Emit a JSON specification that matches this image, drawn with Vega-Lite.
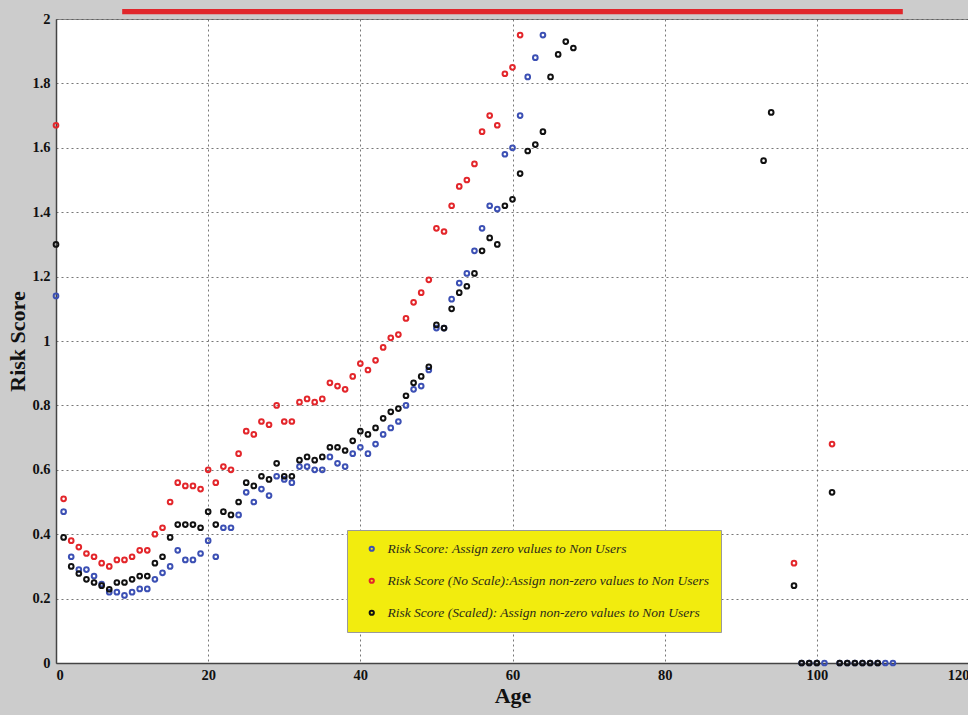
{
  "$schema": "https://vega.github.io/schema/vega-lite/v6.json",
  "width": 913,
  "height": 644,
  "autosize": {"type": "none"},
  "padding": {"left": 56, "top": 19, "right": 0, "bottom": 52},
  "background": "#cccccc",
  "config": {
    "view": {"fill": "white", "stroke": "#8a8a8a", "strokeWidth": 1},
    "font": "Liberation Serif",
    "axis": {
      "grid": true,
      "gridColor": "#555555",
      "gridDash": [2, 3],
      "gridOpacity": 0.8,
      "gridWidth": 1,
      "domainColor": "#444444",
      "domainWidth": 1.5,
      "tickColor": "#444444",
      "tickSize": 0,
      "labelFont": "Liberation Serif",
      "labelFontWeight": "bold",
      "labelFontSize": 14.5,
      "labelColor": "#111111",
      "titleFont": "Liberation Serif",
      "titleFontWeight": "bold",
      "titleColor": "#111111"
    }
  },
  "data": {
    "values": [
      {"s":"B","age":0,"score":1.14},{"s":"B","age":1,"score":0.47},{"s":"B","age":2,"score":0.33},{"s":"B","age":3,"score":0.29},{"s":"B","age":4,"score":0.29},{"s":"B","age":5,"score":0.27},{"s":"B","age":6,"score":0.245},{"s":"B","age":7,"score":0.22},{"s":"B","age":8,"score":0.22},{"s":"B","age":9,"score":0.21},{"s":"B","age":10,"score":0.22},{"s":"B","age":11,"score":0.23},{"s":"B","age":12,"score":0.23},{"s":"B","age":13,"score":0.26},{"s":"B","age":14,"score":0.28},{"s":"B","age":15,"score":0.3},{"s":"B","age":16,"score":0.35},{"s":"B","age":17,"score":0.32},{"s":"B","age":18,"score":0.32},{"s":"B","age":19,"score":0.34},{"s":"B","age":20,"score":0.38},{"s":"B","age":21,"score":0.33},{"s":"B","age":22,"score":0.42},{"s":"B","age":23,"score":0.42},{"s":"B","age":24,"score":0.46},{"s":"B","age":25,"score":0.53},{"s":"B","age":26,"score":0.5},{"s":"B","age":27,"score":0.54},{"s":"B","age":28,"score":0.52},{"s":"B","age":29,"score":0.58},{"s":"B","age":30,"score":0.57},{"s":"B","age":31,"score":0.56},{"s":"B","age":32,"score":0.61},{"s":"B","age":33,"score":0.61},{"s":"B","age":34,"score":0.6},{"s":"B","age":35,"score":0.6},{"s":"B","age":36,"score":0.64},{"s":"B","age":37,"score":0.62},{"s":"B","age":38,"score":0.61},{"s":"B","age":39,"score":0.65},{"s":"B","age":40,"score":0.67},{"s":"B","age":41,"score":0.65},{"s":"B","age":42,"score":0.68},{"s":"B","age":43,"score":0.71},{"s":"B","age":44,"score":0.73},{"s":"B","age":45,"score":0.75},{"s":"B","age":46,"score":0.8},{"s":"B","age":47,"score":0.85},{"s":"B","age":48,"score":0.86},{"s":"B","age":49,"score":0.91},{"s":"B","age":50,"score":1.04},{"s":"B","age":51,"score":1.04},{"s":"B","age":52,"score":1.13},{"s":"B","age":53,"score":1.18},{"s":"B","age":54,"score":1.21},{"s":"B","age":55,"score":1.28},{"s":"B","age":56,"score":1.35},{"s":"B","age":57,"score":1.42},{"s":"B","age":58,"score":1.41},{"s":"B","age":59,"score":1.58},{"s":"B","age":60,"score":1.6},{"s":"B","age":61,"score":1.7},{"s":"B","age":62,"score":1.82},{"s":"B","age":63,"score":1.88},{"s":"B","age":64,"score":1.95},
      {"s":"B","age":98,"score":0},{"s":"B","age":99,"score":0},{"s":"B","age":100,"score":0},{"s":"B","age":101,"score":0},{"s":"B","age":103,"score":0},{"s":"B","age":104,"score":0},{"s":"B","age":105,"score":0},{"s":"B","age":106,"score":0},{"s":"B","age":107,"score":0},{"s":"B","age":108,"score":0},{"s":"B","age":109,"score":0},{"s":"B","age":110,"score":0},
      {"s":"R","age":0,"score":1.67},{"s":"R","age":1,"score":0.51},{"s":"R","age":2,"score":0.38},{"s":"R","age":3,"score":0.36},{"s":"R","age":4,"score":0.34},{"s":"R","age":5,"score":0.33},{"s":"R","age":6,"score":0.31},{"s":"R","age":7,"score":0.3},{"s":"R","age":8,"score":0.32},{"s":"R","age":9,"score":0.32},{"s":"R","age":10,"score":0.33},{"s":"R","age":11,"score":0.35},{"s":"R","age":12,"score":0.35},{"s":"R","age":13,"score":0.4},{"s":"R","age":14,"score":0.42},{"s":"R","age":15,"score":0.5},{"s":"R","age":16,"score":0.56},{"s":"R","age":17,"score":0.55},{"s":"R","age":18,"score":0.55},{"s":"R","age":19,"score":0.54},{"s":"R","age":20,"score":0.6},{"s":"R","age":21,"score":0.56},{"s":"R","age":22,"score":0.61},{"s":"R","age":23,"score":0.6},{"s":"R","age":24,"score":0.65},{"s":"R","age":25,"score":0.72},{"s":"R","age":26,"score":0.71},{"s":"R","age":27,"score":0.75},{"s":"R","age":28,"score":0.74},{"s":"R","age":29,"score":0.8},{"s":"R","age":30,"score":0.75},{"s":"R","age":31,"score":0.75},{"s":"R","age":32,"score":0.81},{"s":"R","age":33,"score":0.82},{"s":"R","age":34,"score":0.81},{"s":"R","age":35,"score":0.82},{"s":"R","age":36,"score":0.87},{"s":"R","age":37,"score":0.86},{"s":"R","age":38,"score":0.85},{"s":"R","age":39,"score":0.89},{"s":"R","age":40,"score":0.93},{"s":"R","age":41,"score":0.91},{"s":"R","age":42,"score":0.94},{"s":"R","age":43,"score":0.98},{"s":"R","age":44,"score":1.01},{"s":"R","age":45,"score":1.02},{"s":"R","age":46,"score":1.07},{"s":"R","age":47,"score":1.12},{"s":"R","age":48,"score":1.15},{"s":"R","age":49,"score":1.19},{"s":"R","age":50,"score":1.35},{"s":"R","age":51,"score":1.34},{"s":"R","age":52,"score":1.42},{"s":"R","age":53,"score":1.48},{"s":"R","age":54,"score":1.5},{"s":"R","age":55,"score":1.55},{"s":"R","age":56,"score":1.65},{"s":"R","age":57,"score":1.7},{"s":"R","age":58,"score":1.67},{"s":"R","age":59,"score":1.83},{"s":"R","age":60,"score":1.85},{"s":"R","age":61,"score":1.95},{"s":"R","age":97,"score":0.31},{"s":"R","age":102,"score":0.68},
      {"s":"K","age":0,"score":1.3},{"s":"K","age":1,"score":0.39},{"s":"K","age":2,"score":0.3},{"s":"K","age":3,"score":0.278},{"s":"K","age":4,"score":0.26},{"s":"K","age":5,"score":0.25},{"s":"K","age":6,"score":0.24},{"s":"K","age":7,"score":0.229},{"s":"K","age":8,"score":0.25},{"s":"K","age":9,"score":0.25},{"s":"K","age":10,"score":0.26},{"s":"K","age":11,"score":0.27},{"s":"K","age":12,"score":0.27},{"s":"K","age":13,"score":0.31},{"s":"K","age":14,"score":0.33},{"s":"K","age":15,"score":0.39},{"s":"K","age":16,"score":0.43},{"s":"K","age":17,"score":0.43},{"s":"K","age":18,"score":0.43},{"s":"K","age":19,"score":0.42},{"s":"K","age":20,"score":0.47},{"s":"K","age":21,"score":0.43},{"s":"K","age":22,"score":0.47},{"s":"K","age":23,"score":0.46},{"s":"K","age":24,"score":0.5},{"s":"K","age":25,"score":0.56},{"s":"K","age":26,"score":0.55},{"s":"K","age":27,"score":0.58},{"s":"K","age":28,"score":0.57},{"s":"K","age":29,"score":0.62},{"s":"K","age":30,"score":0.58},{"s":"K","age":31,"score":0.58},{"s":"K","age":32,"score":0.63},{"s":"K","age":33,"score":0.64},{"s":"K","age":34,"score":0.63},{"s":"K","age":35,"score":0.64},{"s":"K","age":36,"score":0.67},{"s":"K","age":37,"score":0.67},{"s":"K","age":38,"score":0.66},{"s":"K","age":39,"score":0.69},{"s":"K","age":40,"score":0.72},{"s":"K","age":41,"score":0.71},{"s":"K","age":42,"score":0.73},{"s":"K","age":43,"score":0.76},{"s":"K","age":44,"score":0.78},{"s":"K","age":45,"score":0.79},{"s":"K","age":46,"score":0.83},{"s":"K","age":47,"score":0.87},{"s":"K","age":48,"score":0.89},{"s":"K","age":49,"score":0.92},{"s":"K","age":50,"score":1.05},{"s":"K","age":51,"score":1.04},{"s":"K","age":52,"score":1.1},{"s":"K","age":53,"score":1.15},{"s":"K","age":54,"score":1.17},{"s":"K","age":55,"score":1.21},{"s":"K","age":56,"score":1.28},{"s":"K","age":57,"score":1.32},{"s":"K","age":58,"score":1.3},{"s":"K","age":59,"score":1.42},{"s":"K","age":60,"score":1.44},{"s":"K","age":61,"score":1.52},{"s":"K","age":62,"score":1.59},{"s":"K","age":63,"score":1.61},{"s":"K","age":64,"score":1.65},{"s":"K","age":65,"score":1.82},{"s":"K","age":66,"score":1.89},{"s":"K","age":67,"score":1.93},{"s":"K","age":68,"score":1.91},{"s":"K","age":93,"score":1.56},{"s":"K","age":94,"score":1.71},{"s":"K","age":97,"score":0.24},{"s":"K","age":98,"score":0},{"s":"K","age":99,"score":0},{"s":"K","age":100,"score":0},{"s":"K","age":102,"score":0.53},{"s":"K","age":103,"score":0},{"s":"K","age":104,"score":0},{"s":"K","age":105,"score":0},{"s":"K","age":106,"score":0},{"s":"K","age":107,"score":0},{"s":"K","age":108,"score":0}
    ]
  },
  "layer": [
    {
      "data": {"values": [{}]},
      "mark": {"type": "rect", "color": "#e0262b", "clip": false},
      "encoding": {
        "x": {"datum": 8.7, "type": "quantitative", "scale": {"domain": [0, 120], "nice": false}},
        "x2": {"datum": 111.3},
        "y": {"datum": 2.0145, "type": "quantitative", "scale": {"domain": [0, 2], "nice": false}},
        "y2": {"datum": 2.031}
      }
    },
    {
      "mark": {"type": "point", "shape": "circle", "filled": false, "size": 22, "strokeWidth": 2, "opacity": 1, "clip": false},
      "encoding": {
        "x": {
          "field": "age", "type": "quantitative",
          "scale": {"domain": [0, 120], "nice": false},
          "axis": {"values": [0, 20, 40, 60, 80, 100, 120], "title": "Age", "titleFontSize": 22, "titlePadding": 4, "labelPadding": 5}
        },
        "y": {
          "field": "score", "type": "quantitative",
          "scale": {"domain": [0, 2], "nice": false},
          "axis": {"values": [0, 0.2, 0.4, 0.6, 0.8, 1, 1.2, 1.4, 1.6, 1.8, 2], "format": "~g", "title": "Risk Score", "titleFontSize": 22, "titlePadding": 2, "labelPadding": 6}
        },
        "color": {
          "field": "s", "type": "nominal",
          "scale": {"domain": ["B", "R", "K"], "range": ["#3c50b4", "#e3262b", "#111111"]},
          "legend": {
            "title": null,
            "orient": "none",
            "legendX": 291,
            "legendY": 511,
            "direction": "vertical",
            "fillColor": "#f2ec0e",
            "strokeColor": "#9a9a9a",
            "padding": 12,
            "rowPadding": 17,
            "symbolType": "circle",
            "symbolSize": 18,
            "symbolStrokeWidth": 2,
            "symbolOffset": 6,
            "labelOffset": 9,
            "labelFont": "Liberation Serif",
            "labelFontStyle": "italic",
            "labelFontSize": 13.5,
            "labelColor": "#2a2a1a",
            "labelLimit": 500,
            "labelExpr": "datum.label == 'B' ? 'Risk Score: Assign zero values to Non Users' : datum.label == 'R' ? 'Risk Score (No Scale):Assign non-zero values to Non Users' : 'Risk Score (Scaled): Assign non-zero values to Non Users'"
          }
        }
      }
    }
  ]
}
